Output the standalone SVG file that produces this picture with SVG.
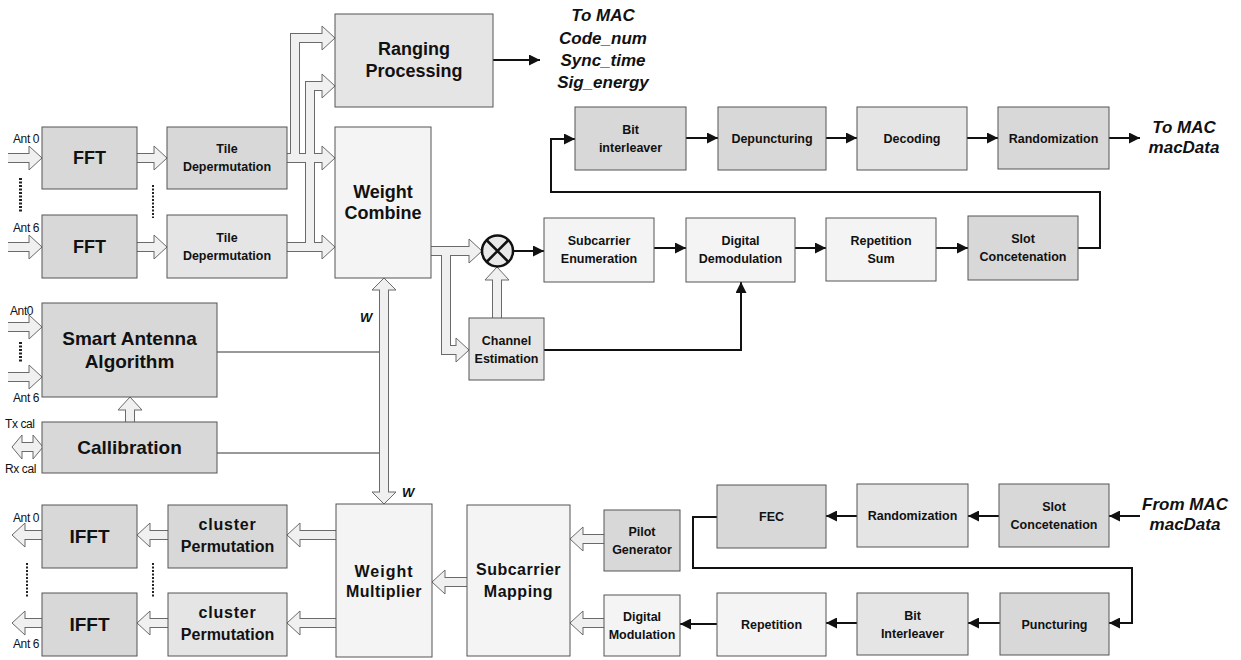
<svg xmlns="http://www.w3.org/2000/svg" width="1241" height="660" viewBox="0 0 1241 660">
<style>
.bx{stroke:#555;stroke-width:1}
.f1{fill:#d8d8d8}.f2{fill:#e5e5e5}.f3{fill:#f4f4f4}
text{font-family:"Liberation Sans",Arial,sans-serif;fill:#111}
.l{font-weight:bold;text-anchor:middle}
.s{font-size:12.5px}.m{font-size:16px}.g{font-size:18px}.h{font-size:19px}
.o{font-weight:bold;font-style:italic;font-size:17px;text-anchor:middle}
.a{font-size:12px;letter-spacing:-0.4px}
.w{font-size:13px;font-style:italic;font-weight:bold}
.po{fill:none;stroke:#6a6a6a;stroke-width:10}
.pi{fill:none;stroke:#f0f0f0;stroke-width:8}
.hd{fill:#f0f0f0;stroke:#6a6a6a;stroke-width:1}
.ln{fill:none;stroke:#111;stroke-width:2}
.gl{fill:none;stroke:#777;stroke-width:1.5}
.dt{stroke:#222;stroke-width:3;stroke-dasharray:2 1.5}
</style>
<defs>
<marker id="ah" markerUnits="userSpaceOnUse" markerWidth="11" markerHeight="11" refX="11" refY="5.5" orient="auto">
<path d="M0,0 L11,5.5 L0,11 z" fill="#111"/>
</marker>
</defs>

<g id="connectors">
<!-- hollow arrows: outer pipes -->
<g class="po">
<path d="M8,158 H30"/><path d="M8,247 H30"/>
<path d="M137,158 H155"/><path d="M137,247 H155"/>
<path d="M287,158 H295 V38 H323"/><path d="M295,158 H323"/>
<path d="M287,247 H310 V86 H323"/><path d="M310,247 H323"/>
<path d="M431,251 H470"/><path d="M446,251 V350 H457"/>
<path d="M497,318 V279"/>
<path d="M130,422 V409"/>
<path d="M8,327 H30"/><path d="M8,377 H30"/>
<path d="M21,447 H34"/>
<path d="M384,289 V493"/>
<path d="M336,535 H299"/><path d="M336,623 H299"/>
<path d="M168,535 H149"/><path d="M168,623 H149"/>
<path d="M42,535 H24"/><path d="M42,623 H24"/>
<path d="M467,582 H444"/>
<path d="M604,539 H582"/><path d="M604,623 H582"/>
</g>
<g class="hd">
<polygon points="29,146 42,158 29,170"/><polygon points="29,235 42,247 29,259"/>
<polygon points="154,146 167,158 154,170"/><polygon points="154,235 167,247 154,259"/>
<polygon points="322,26 335,38 322,50"/><polygon points="322,146 335,158 322,170"/>
<polygon points="322,74 335,86 322,98"/><polygon points="322,235 335,247 322,259"/>
<polygon points="469,239 482,251 469,263"/><polygon points="456,338 469,350 456,362"/>
<polygon points="485,280 497,267 509,280"/>
<polygon points="118,410 130,397 142,410"/>
<polygon points="29,315 42,327 29,339"/><polygon points="29,365 42,377 29,389"/>
<polygon points="22,435 12,447 22,459"/><polygon points="33,435 43,447 33,459"/>
<polygon points="372,290 384,278 396,290"/><polygon points="372,492 384,504 396,492"/>
<polygon points="300,523 287,535 300,547"/><polygon points="300,611 287,623 300,635"/>
<polygon points="150,523 137,535 150,547"/><polygon points="150,611 137,623 150,635"/>
<polygon points="25,523 12,535 25,547"/><polygon points="25,611 12,623 25,635"/>
<polygon points="445,570 432,582 445,594"/>
<polygon points="583,527 570,539 583,551"/><polygon points="583,611 570,623 583,635"/>
</g>
<g class="pi">
<path d="M8,158 H30"/><path d="M8,247 H30"/>
<path d="M137,158 H155"/><path d="M137,247 H155"/>
<path d="M287,158 H295 V38 H323"/><path d="M295,158 H323"/>
<path d="M287,247 H310 V86 H323"/><path d="M310,247 H323"/>
<path d="M431,251 H470"/><path d="M446,251 V350 H457"/>
<path d="M497,318 V279"/>
<path d="M130,422 V409"/>
<path d="M8,327 H30"/><path d="M8,377 H30"/>
<path d="M21,447 H34"/>
<path d="M384,289 V493"/>
<path d="M336,535 H299"/><path d="M336,623 H299"/>
<path d="M168,535 H149"/><path d="M168,623 H149"/>
<path d="M42,535 H24"/><path d="M42,623 H24"/>
<path d="M467,582 H444"/>
<path d="M604,539 H582"/><path d="M604,623 H582"/>
</g>
<!-- thin gray lines to W -->
<path class="gl" d="M217,352 H379"/>
<path class="gl" d="M217,453 H379"/>
<!-- solid arrows -->
<g class="ln" marker-end="url(#ah)">
<path d="M493,60 H540"/>
<path d="M513,251 H544"/>
<path d="M654,248 H686"/>
<path d="M795,248 H826"/>
<path d="M936,248 H968"/>
<path d="M1078,248 H1100 V192 H551 V139 H575"/>
<path d="M686,138 H718"/>
<path d="M826,138 H857"/>
<path d="M967,138 H998"/>
<path d="M1109,138 H1140"/>
<path d="M544,350 H741 V282"/>
<path d="M1140,516 H1109"/>
<path d="M999,516 H968"/>
<path d="M857,516 H826"/>
<path d="M717,517 H693 V568 H1132 V623 H1109"/>
<path d="M1000,623 H968"/>
<path d="M857,623 H826"/>
<path d="M717,624 H680"/>
</g>
<!-- dotted continuation marks -->
<path class="dt" d="M20.5,178 V212"/>
<path class="dt" d="M153,185 V218" style="stroke-width:2"/>
<path class="dt" d="M20.5,342 V363"/>
<path class="dt" d="M27,563 V597" style="stroke-width:2"/>
<path class="dt" d="M153,563 V597" style="stroke-width:2"/>
</g>

<g id="multiplier">
<circle cx="497.5" cy="251" r="15.5" fill="#e8e8e8" stroke="#111" stroke-width="2.5"/>
<path d="M486.5,240 L508.5,262 M508.5,240 L486.5,262" stroke="#111" stroke-width="2.5"/>
</g>

<g id="fft1"><rect class="bx f1" x="42" y="127" width="95" height="62"/><text class="l g" x="89.5" y="164">FFT</text></g>
<g id="fft2"><rect class="bx f1" x="42" y="215" width="95" height="63"/><text class="l g" x="89.5" y="253">FFT</text></g>
<g id="tile1"><rect class="bx f1" x="167" y="127" width="120" height="62"/><text class="l s" x="227" y="153">Tile</text><text class="l s" x="227" y="171">Depermutation</text></g>
<g id="tile2"><rect class="bx f2" x="167" y="215" width="120" height="63"/><text class="l s" x="227" y="242">Tile</text><text class="l s" x="227" y="260">Depermutation</text></g>
<g id="ranging"><rect class="bx f2" x="335" y="14" width="158" height="93"/><text class="l g" x="414" y="55">Ranging</text><text class="l g" x="414" y="77">Processing</text></g>
<g id="weightcombine"><rect class="bx f3" x="335" y="127" width="96" height="151"/><text class="l g" x="383" y="198">Weight</text><text class="l g" x="383" y="219">Combine</text></g>
<g id="channelest"><rect class="bx f2" x="469" y="318" width="75" height="62"/><text class="l s" x="506.5" y="345">Channel</text><text class="l s" x="506.5" y="363">Estimation</text></g>
<g id="subenum"><rect class="bx f3" x="544" y="218" width="110" height="64"/><text class="l s" x="599" y="245">Subcarrier</text><text class="l s" x="599" y="263">Enumeration</text></g>
<g id="ddemod"><rect class="bx f3" x="686" y="218" width="109" height="64"/><text class="l s" x="740.5" y="245">Digital</text><text class="l s" x="740.5" y="263">Demodulation</text></g>
<g id="repsum"><rect class="bx f3" x="826" y="218" width="110" height="63"/><text class="l s" x="881" y="245">Repetition</text><text class="l s" x="881" y="263">Sum</text></g>
<g id="slotconc1"><rect class="bx f1" x="968" y="216" width="110" height="64"/><text class="l s" x="1023" y="243">Slot</text><text class="l s" x="1023" y="261">Concetenation</text></g>
<g id="bitint1"><rect class="bx f1" x="575" y="107" width="111" height="63"/><text class="l s" x="630.5" y="134">Bit</text><text class="l s" x="630.5" y="152">interleaver</text></g>
<g id="depunct"><rect class="bx f1" x="718" y="107" width="108" height="63"/><text class="l s" x="772" y="143">Depuncturing</text></g>
<g id="decoding"><rect class="bx f2" x="857" y="107" width="110" height="63"/><text class="l s" x="912" y="143">Decoding</text></g>
<g id="random1"><rect class="bx f1" x="998" y="107" width="111" height="62"/><text class="l s" x="1053.5" y="143">Randomization</text></g>
<g id="saa"><rect class="bx f1" x="42" y="303" width="175" height="94"/><text class="l h" x="129.5" y="345">Smart Antenna</text><text class="l h" x="129.5" y="368">Algorithm</text></g>
<g id="calib"><rect class="bx f1" x="42" y="422" width="175" height="51"/><text class="l h" x="129.5" y="454">Callibration</text></g>
<g id="weightmult"><rect class="bx f3" x="336" y="504" width="96" height="153"/><text class="l m" x="384" y="577" letter-spacing="1">Weight</text><text class="l m" x="384" y="597" letter-spacing="0.5">Multiplier</text></g>
<g id="ifft1"><rect class="bx f1" x="42" y="505" width="95" height="63"/><text class="l h" x="89.5" y="543">IFFT</text></g>
<g id="ifft2"><rect class="bx f1" x="42" y="593" width="95" height="63"/><text class="l h" x="89.5" y="631">IFFT</text></g>
<g id="cluster1"><rect class="bx f1" x="168" y="505" width="119" height="63"/><text class="l m" x="227.5" y="530" letter-spacing="0.8">cluster</text><text class="l m" x="227.5" y="552">Permutation</text></g>
<g id="cluster2"><rect class="bx f2" x="168" y="593" width="119" height="63"/><text class="l m" x="227.5" y="618" letter-spacing="0.8">cluster</text><text class="l m" x="227.5" y="640">Permutation</text></g>
<g id="submap"><rect class="bx f3" x="467" y="505" width="103" height="151"/><text class="l m" x="518.5" y="575" letter-spacing="0.5">Subcarrier</text><text class="l m" x="518.5" y="597" letter-spacing="0.5">Mapping</text></g>
<g id="pilot"><rect class="bx f1" x="604" y="510" width="76" height="61"/><text class="l s" x="642" y="536">Pilot</text><text class="l s" x="642" y="554">Generator</text></g>
<g id="dmod"><rect class="bx f3" x="604" y="595" width="76" height="61"/><text class="l s" x="642" y="621">Digital</text><text class="l s" x="642" y="639">Modulation</text></g>
<g id="fec"><rect class="bx f1" x="717" y="485" width="109" height="63"/><text class="l s" x="771.5" y="521">FEC</text></g>
<g id="repetition"><rect class="bx f3" x="717" y="593" width="109" height="63"/><text class="l s" x="771.5" y="629">Repetition</text></g>
<g id="random2"><rect class="bx f2" x="857" y="484" width="111" height="63"/><text class="l s" x="912.5" y="520">Randomization</text></g>
<g id="slotconc2"><rect class="bx f1" x="999" y="484" width="110" height="63"/><text class="l s" x="1054" y="511">Slot</text><text class="l s" x="1054" y="529">Concetenation</text></g>
<g id="bitint2"><rect class="bx f2" x="857" y="593" width="111" height="62"/><text class="l s" x="912.5" y="620">Bit</text><text class="l s" x="912.5" y="638">Interleaver</text></g>
<g id="punct"><rect class="bx f1" x="1000" y="593" width="109" height="62"/><text class="l s" x="1054.5" y="629">Puncturing</text></g>

<g id="labels">
<text class="o" x="603" y="21">To MAC</text>
<text class="o" x="603" y="44">Code_num</text>
<text class="o" x="603" y="66">Sync_time</text>
<text class="o" x="603" y="88">Sig_energy</text>
<text class="o" x="1184" y="133">To MAC</text>
<text class="o" x="1184" y="153">macData</text>
<text class="o" x="1185" y="510">From MAC</text>
<text class="o" x="1185" y="530">macData</text>
<text class="a" x="13" y="143">Ant 0</text>
<text class="a" x="13" y="232">Ant 6</text>
<text class="a" x="10" y="315">Ant0</text>
<text class="a" x="13" y="402">Ant 6</text>
<text class="a" x="5" y="428">Tx cal</text>
<text class="a" x="5" y="473">Rx cal</text>
<text class="a" x="13" y="522">Ant 0</text>
<text class="a" x="13" y="648">Ant 6</text>
<text class="w" x="360" y="322">W</text>
<text class="w" x="402" y="497">W</text>
</g>
</svg>
